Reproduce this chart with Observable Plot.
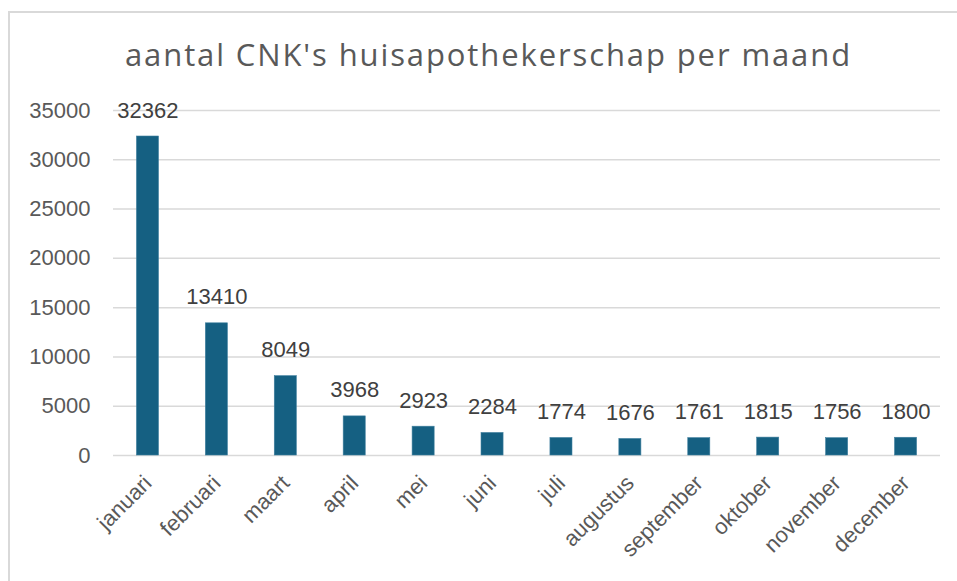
<!DOCTYPE html>
<html><head><meta charset="utf-8">
<script src="https://cdn.jsdelivr.net/npm/d3@7"></script>
<script src="https://cdn.jsdelivr.net/npm/@observablehq/plot@0.6"></script>
<style>
html,body{margin:0;padding:0;background:#fff;overflow:hidden;width:957px;height:581px;}
#frame{position:absolute;left:8px;top:11px;width:1000px;height:1000px;border:2px solid #d9d9d9;box-sizing:border-box;}
#title{position:absolute;left:0;width:977px;top:39px;text-align:center;font-family:'Open Sans',sans-serif;font-size:31px;line-height:31px;color:#595959;white-space:nowrap}
#chart{position:absolute;left:0;top:90px;}
</style></head><body>
<div id="frame"></div>
<div id="title">aantal CNK's huisapothekerschap per maand</div>
<div id="chart"></div>
<script>
const months = ["januari","februari","maart","april","mei","juni","juli","augustus","september","oktober","november","december"];
const counts = [32362,13410,8049,3968,2923,2284,1774,1676,1761,1815,1756,1800];
const yTicks = [0,5000,10000,15000,20000,25000,30000,35000];
const data = months.map((m,i)=>({month:m,count:counts[i]}));

const t = document.getElementById('title');
const ctx = document.createElement('canvas').getContext('2d');
ctx.font = "31px 'Open Sans'";
const w = ctx.measureText(t.textContent).width;
t.style.letterSpacing = ((727 - w) / t.textContent.length) + "px";

const chart = Plot.plot({
  width: 957, height: 491,
  marginLeft: 113, marginRight: 17, marginTop: 20, marginBottom: 126,
  style: {fontFamily: "'Liberation Sans', Arial, sans-serif", fontSize: "22px", color: "#595959", background: "transparent"},
  x: {domain: months, paddingInner: 0.68, paddingOuter: 0.34, round: false, label: null},
  y: {domain: [0, 35000], label: null},
  marks: [
    Plot.gridY(yTicks, {stroke: "#d9d9d9", strokeOpacity: 1, strokeWidth: 1.5}),
    Plot.axisY(yTicks, {tickSize: 0, tickPadding: 23, tickFormat: d => String(d), label: null, fill: "#595959"}),
    Plot.axisX({tickSize: 0, tickPadding: 24, dx: 0, tickRotate: -45, label: null, fill: "#595959"}),
    Plot.barY(data, {x: "month", y: "count", fill: "#156082", stroke: "#3f7f9e", strokeWidth: 0.6}),
    Plot.text(data, {x: "month", y: "count", text: d => String(d.count), dy: -26, fill: "#404040"})
  ]
});
document.getElementById('chart').appendChild(chart);
</script>
</body></html>
